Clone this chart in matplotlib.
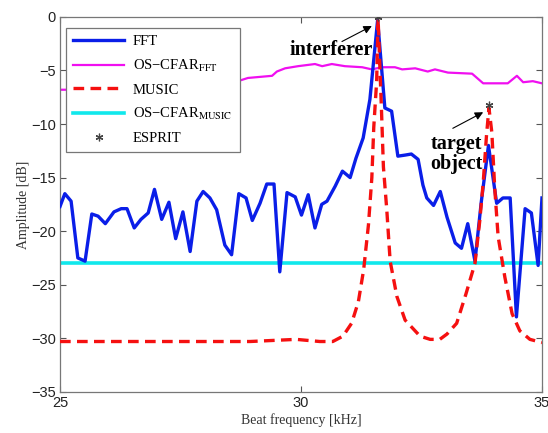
import matplotlib
matplotlib.use("Agg")
import matplotlib.pyplot as plt

plt.rcParams["mathtext.fontset"] = "stix"

# FFT spectrum (kHz, dB)
fft_f = [25.00, 25.10, 25.23, 25.37, 25.52, 25.66, 25.79, 25.94, 26.12, 26.27,
         26.39, 26.54, 26.68, 26.83, 26.96, 27.11, 27.26, 27.40, 27.55, 27.70,
         27.84, 27.97, 28.11, 28.25, 28.42, 28.56, 28.71, 28.86, 28.99, 29.15,
         29.29, 29.44, 29.56, 29.71, 29.88, 30.01, 30.15, 30.29, 30.43, 30.54,
         30.71, 30.86, 31.02, 31.14, 31.29, 31.43, 31.59, 31.74, 31.88, 32.01,
         32.16, 32.29, 32.43, 32.53, 32.61, 32.75, 32.89, 33.03, 33.20, 33.33,
         33.46, 33.61, 33.74, 33.89, 34.06, 34.19, 34.34, 34.47, 34.65, 34.78,
         34.92, 35.00]
fft_db = [-17.7, -16.5, -17.2, -22.5, -22.8, -18.4, -18.6, -19.3, -18.2, -17.9,
          -17.9, -19.7, -18.9, -18.3, -16.1, -18.9, -17.3, -20.7, -18.2, -21.9,
          -17.2, -16.3, -16.9, -18.0, -21.3, -22.2, -16.5, -16.9, -19.0, -17.4,
          -15.6, -15.6, -23.8, -16.4, -16.8, -18.5, -16.6, -19.7, -17.5, -17.2,
          -15.8, -14.4, -15.0, -13.2, -11.3, -7.7, -0.3, -8.5, -8.8, -13.0,
          -12.9, -12.8, -13.3, -15.7, -16.9, -17.6, -16.3, -18.7, -21.1, -21.6,
          -19.3, -22.8, -17.3, -12.0, -17.4, -16.9, -16.9, -28.0, -17.9, -18.3,
          -23.2, -16.9]

# OS-CFAR threshold on FFT
cfar_fft_f = [25.00, 25.80, 26.60, 27.60, 28.69, 28.90, 29.40, 29.50, 29.67, 29.94,
              30.29, 30.44, 30.64, 30.91, 31.27, 31.47, 31.68, 31.95, 32.10, 32.37,
              32.63, 32.78, 33.05, 33.55, 33.78, 34.29, 34.48, 34.61, 34.81, 35.00]
cfar_fft_db = [-6.8, -6.8, -6.5, -6.2, -6.0, -5.7, -5.5, -5.1, -4.8, -4.6,
               -4.4, -4.6, -4.4, -4.6, -4.7, -4.9, -4.7, -4.7, -4.9, -4.8,
               -5.1, -4.9, -5.2, -5.3, -6.2, -6.2, -5.5, -6.1, -6.0, -6.2]

# MUSIC pseudo-spectrum
music_f = [25.00, 26.87, 28.94, 29.90, 30.39, 30.66, 30.87, 31.05, 31.19, 31.30,
           31.40, 31.47, 31.51, 31.57, 31.60, 31.67, 31.71, 31.78, 31.85, 31.99,
           32.16, 32.47, 32.68, 32.88, 33.03, 33.23, 33.42, 33.61, 33.71, 33.78,
           33.85, 33.90, 33.96, 34.02, 34.09, 34.23, 34.38, 34.54, 34.75, 35.00]
music_db = [-30.3, -30.3, -30.3, -30.1, -30.3, -30.3, -29.8, -28.6, -26.6, -23.6,
            -19.4, -15.0, -10.3, -6.0, -0.2, -8.7, -14.0, -18.0, -22.8, -26.1,
            -28.3, -29.8, -30.1, -30.1, -29.6, -28.6, -25.9, -23.0, -19.0, -15.5,
            -11.0, -8.5, -10.8, -16.0, -20.5, -24.3, -27.7, -29.3, -30.1, -30.4]

# OS-CFAR threshold on MUSIC
cfar_music_f = [25.0, 35.0]
cfar_music_db = [-23.0, -23.0]

# ESPRIT estimates
esprit_f = [31.60, 33.90]
esprit_db = [0.0, -8.2]

fig = plt.figure(figsize=(5.48, 4.33), dpi=100)
ax = fig.add_axes([0.1095, 0.095, 0.8795, 0.866])

ax.plot(fft_f, fft_db, color="#0a1ee8", lw=2.4, label="FFT", zorder=3)
ax.plot(cfar_fft_f, cfar_fft_db, color="#f00ff0", lw=1.6,
        label="OS\u2212CFAR$_{\\mathrm{FFT}}$", zorder=2)
ax.plot(music_f, music_db, color="#f51010", lw=2.4, dashes=(3.2, 1.9),
        label="MUSIC", zorder=4)
ax.plot(cfar_music_f, cfar_music_db, color="#10e8ec", lw=2.6,
        label="OS\u2212CFAR$_{\\mathrm{MUSIC}}$", zorder=2)
ax.plot(esprit_f, esprit_db, ls="none", marker=(6, 2, 0), ms=5.5,
        mec="#444444", mew=0.9, label="ESPRIT", zorder=5)

ax.set_xlim(25, 35)
ax.set_ylim(-35, 0)
ax.set_xticks([25, 30, 35])
ax.set_yticks([0, -5, -10, -15, -20, -25, -30, -35])
ax.set_yticklabels(["0", "\u22125", "\u221210", "\u221215", "\u221220",
                    "\u221225", "\u221230", "\u221235"])
ax.tick_params(direction="in", top=True, right=True, length=4,
               labelsize=10.5, colors="#555555", labelcolor="#222222", pad=3)
for lab in ax.get_xticklabels() + ax.get_yticklabels():
    lab.set_family("Liberation Sans")
for s in ax.spines.values():
    s.set_color("#777777")
    s.set_linewidth(0.9)

ax.set_xlabel("Beat frequency [kHz]", family="Liberation Serif", fontsize=10,
              color="#333333", labelpad=2)
ax.set_ylabel("Amplitude [dB]", family="Liberation Serif", fontsize=10,
              color="#333333", labelpad=1)

arrow = dict(arrowstyle="-|>", color="black", lw=0.8,
             shrinkA=0, shrinkB=0, mutation_scale=12)
ax.annotate("", xy=(31.47, -0.85), xytext=(30.85, -2.3), arrowprops=arrow,
            zorder=6)
ax.text(30.62, -3.1, "interferer", fontsize=14.5, fontweight="bold",
        family="Liberation Serif", ha="center", va="center", zorder=6)
ax.annotate("", xy=(33.78, -8.9), xytext=(33.15, -10.4), arrowprops=arrow,
            zorder=6)
ax.text(33.22, -12.8, "target\nobject", fontsize=14.5, fontweight="bold",
        family="Liberation Serif", ha="center", va="center",
        linespacing=1.05, zorder=6)

leg = ax.legend(loc="upper left", bbox_to_anchor=(0.012, 0.971),
                borderaxespad=0, fancybox=False, framealpha=1,
                edgecolor="#777777", handlelength=3.5, labelspacing=0.65,
                prop={"family": "Liberation Serif", "size": 10.5},
                borderpad=0.5, handletextpad=0.6)
leg.get_frame().set_linewidth(0.9)
leg.set_zorder(10)

fig.savefig("out.png", dpi=100)
